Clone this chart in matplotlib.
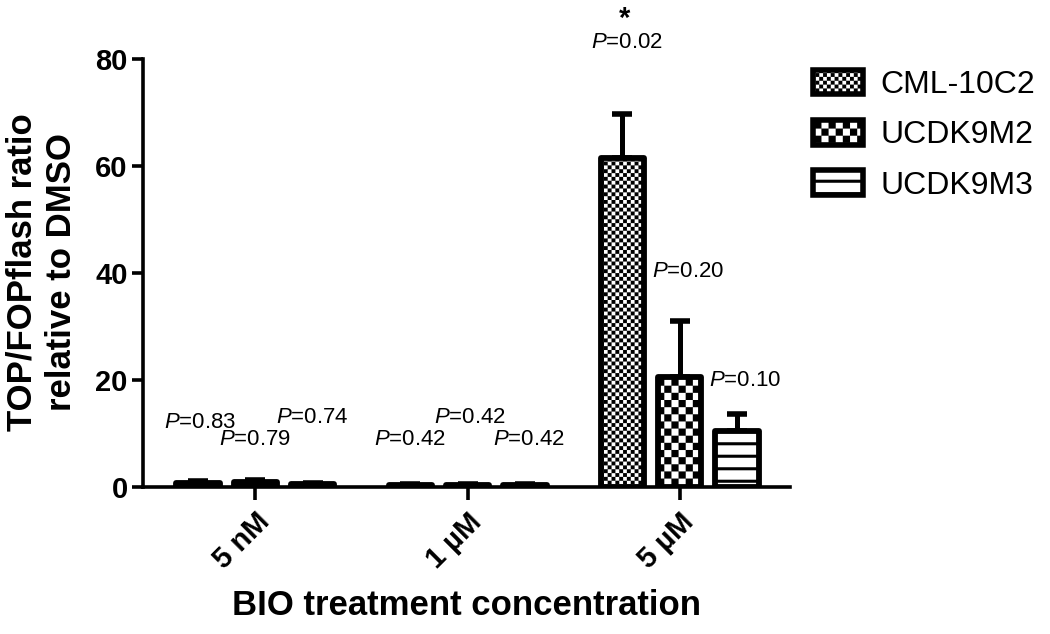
import warnings
warnings.filterwarnings("ignore")
import numpy as np
import matplotlib
matplotlib.use("Agg")
import matplotlib.pyplot as plt
import matplotlib.hatch as mhatch
from matplotlib.path import Path
from matplotlib.patches import Patch

# ---------------- data ----------------
groups = ["5 nM", "1 \u00b5M", "5 \u00b5M"]
series = ["CML-10C2", "UCDK9M2", "UCDK9M3"]
cml_vals = [0.8, 0.4, 61.5]
cml_err = [0.3, 0.1, 8.3]
m2_vals = [0.9, 0.4, 20.5]
m2_err = [0.4, 0.1, 10.6]
m3_vals = [0.5, 0.4, 10.5]
m3_err = [0.2, 0.1, 3.2]
p_texts = [["0.83", "0.79", "0.74"],
           ["0.42", "0.42", "0.42"],
           ["0.02", "0.20", "0.10"]]
p_ypos = [[12.0, 8.8, 12.9],
          [8.8, 12.9, 8.8],
          [83.0, 40.2, 20.0]]
star_y = 87.5
yticks = [0, 20, 40, 60, 80]

# ---------------- custom hatches ----------------
class _Checker(mhatch.HatchPatternBase):
    char = "*"
    per = 2
    def __init__(self, hatch, density):
        cnt = hatch.count(self.char)
        self.n = cnt * self.per
        if self.n:
            self.num_sq = (self.n * self.n) // 2
            self.num_vertices = self.num_sq * 5
        else:
            self.num_sq = 0
            self.num_vertices = 0
    def set_vertices_and_codes(self, vertices, codes):
        n = self.n
        s = 1.0 / n
        k = 0
        for i in range(n):
            for j in range(n):
                if (i + j) % 2 == 0:
                    x0, y0 = i * s, j * s
                    vertices[k:k + 5] = [[x0, y0], [x0 + s, y0], [x0 + s, y0 + s],
                                         [x0, y0 + s], [x0, y0]]
                    codes[k] = Path.MOVETO
                    codes[k + 1:k + 4] = Path.LINETO
                    codes[k + 4] = Path.CLOSEPOLY
                    k += 5

class FineChecker(_Checker):
    char = "*"
    per = 2

class CoarseChecker(_Checker):
    char = "O"
    per = 2

class FilledStripes(mhatch.HatchPatternBase):
    def __init__(self, hatch, density):
        self.num = hatch.count("-")
        self.num_vertices = self.num * 5
    def set_vertices_and_codes(self, vertices, codes):
        n = self.num
        t = 0.03
        for i in range(n):
            yc = (i + 0.5) / n
            k = i * 5
            vertices[k:k + 5] = [[0, yc - t / 2], [1, yc - t / 2], [1, yc + t / 2],
                                 [0, yc + t / 2], [0, yc - t / 2]]
            codes[k] = Path.MOVETO
            codes[k + 1:k + 4] = Path.LINETO
            codes[k + 4] = Path.CLOSEPOLY

mhatch._hatch_types[:] = [t for t in mhatch._hatch_types
                          if t not in (mhatch.HorizontalHatch, mhatch.LargeCircles, mhatch.Stars)]
mhatch._hatch_types += [FineChecker, CoarseChecker, FilledStripes]

plt.rcParams["font.family"] = ["Liberation Sans", "DejaVu Sans"]
plt.rcParams["mathtext.fontset"] = "custom"
plt.rcParams["mathtext.rm"] = "Liberation Sans"
plt.rcParams["mathtext.it"] = "Liberation Sans:italic"
plt.rcParams["mathtext.bf"] = "Liberation Sans:bold"
plt.rcParams["hatch.linewidth"] = 0.05
plt.rcParams["hatch.color"] = "black"

hatches = ["*" * 13, "O" * 7, "-" * 8]

fig = plt.figure(figsize=(10.5, 6.34), dpi=100)
ax = fig.add_axes([143 / 1050, 1 - 487 / 634, 647 / 1050, 428 / 634])

x = np.arange(len(groups))
offsets = [-0.27, 0.0, 0.27]
width = 0.205
vals = [cml_vals, m2_vals, m3_vals]
errs = [cml_err, m2_err, m3_err]

for k in range(3):
    xs = x + offsets[k]
    ax.errorbar(xs, vals[k], yerr=[np.zeros(3), errs[k]], fmt="none",
                ecolor="black", elinewidth=3.6, capsize=7.5, capthick=4, zorder=1)
    ax.bar(xs, vals[k], width=width, facecolor="white", edgecolor="black",
           linewidth=4.2, hatch=hatches[k], zorder=2, joinstyle="round")

label_dx = [[0.01, 0.0, 0.0], [0.0, 0.01, 0.02], [0.02, 0.04, 0.04]]
for g in range(3):
    for k in range(3):
        ax.text(x[g] + offsets[k] + label_dx[g][k], p_ypos[g][k],
                r"$\it{P}$=" + p_texts[g][k],
                ha="center", va="center", fontsize=16)
ax.text(x[2] + offsets[0] + 0.01, star_y, "*", ha="center", va="center",
        fontsize=21, fontweight="bold")

ax.set_xlim(-0.53, 2.52)
ax.set_ylim(0, 80)
ax.set_yticks(yticks)
ax.set_yticklabels([str(v) for v in yticks], fontsize=21, fontweight="bold")
ax.set_xticks(x)
ax.set_xticklabels(groups, fontsize=21, fontweight="bold", rotation=45,
                   ha="right", va="top", rotation_mode="anchor")
for sp in ["top", "right"]:
    ax.spines[sp].set_visible(False)
for sp in ["left", "bottom"]:
    ax.spines[sp].set_linewidth(2.6)
ax.tick_params(axis="both", width=2.6, length=8, pad=3)
ax.tick_params(axis="x", length=9, pad=6)

ax.set_ylabel("TOP/FOPflash ratio\nrelative to DMSO", fontsize=25,
              fontweight="bold", ha="center", va="center", linespacing=1.25)
ax.yaxis.set_label_coords(-0.156, 0.502)
ax.set_xlabel("BIO treatment concentration", fontsize=25, fontweight="bold",
              va="center")
ax.xaxis.set_label_coords(0.5, -0.276)

handles = [Patch(facecolor="white", edgecolor="black", linewidth=4,
                 hatch=hatches[k], joinstyle="round") for k in range(3)]
ax.legend(handles, series, loc="upper left", bbox_to_anchor=(813 / 1050, 1 - 70 / 634),
          bbox_transform=fig.transFigure, frameon=False, fontsize=23,
          handlelength=1.55, handleheight=0.8, handletextpad=0.55,
          labelspacing=0.62, borderaxespad=0, borderpad=0)

fig.savefig("out.png", dpi=100)
